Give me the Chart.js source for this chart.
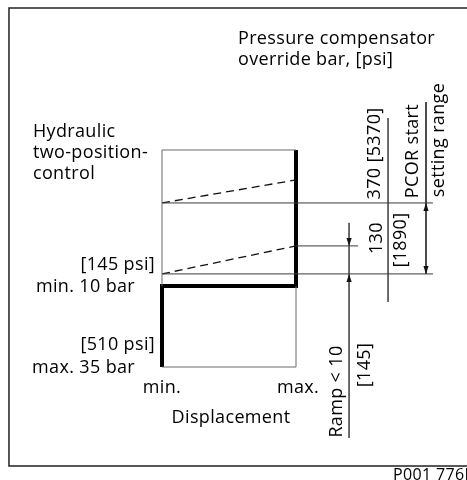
<!DOCTYPE html>
<html>
<head>
<meta charset="utf-8">
<script src="https://cdn.jsdelivr.net/npm/chart.js@4/dist/chart.umd.min.js"></script>
<style>
  html, body { margin: 0; padding: 0; background: #fff; }
  #c { display: block; }
</style>
</head>
<body>
<canvas id="c" width="467" height="480"></canvas>
<script>
// ---- Diagram data (x: displacement, 0 = min, 1 = max; y: abstract pressure level, 0..100 = box) ----
const levelMax35 = 0;        // bottom of box (max. 35 bar / 510 psi)
const levelMin10 = 37.3;     // step of the two-position control (min. 10 bar)
const levelRampLow = 42.9;   // PCOR start lower setting (130 bar)
const levelRampLowEnd = 55.8;// end of lower ramp
const levelRampHigh = 75.6;  // PCOR start upper setting (370 bar)
const levelRampHighEnd = 86.2;
const levelTop = 100;

const controlStepX = [1, 1, 0, 0];
const controlStepY = [levelTop, levelMin10, levelMin10, levelMax35];
const boxUpperX = [0, 0, 1];
const boxUpperY = [levelMin10, levelTop, levelTop];
const boxLowerX = [0, 1, 1];
const boxLowerY = [levelMax35, levelMax35, levelMin10];
const rampLowX = [0, 1];
const rampLowY = [levelRampLow, levelRampLowEnd];
const rampHighX = [0, 1];
const rampHighY = [levelRampHigh, levelRampHighEnd];
const extensionX = [0, 2.022];
const shortExtX = [1, 1.463];

// dimension lines
const dimRampX = 1.396, dimRampY = [66.4, -32.7];
const dimPcorX = 1.687, dimPcorY = [114.7, 30.0];
const dimRangeX = 1.970, dimRangeY = [122.1, levelRampLow];

const xLabels = ["min.", "max."];

function pts(xs, ys) { return xs.map((x, i) => ({ x: x, y: ys[i] })); }
function lineDs(data, width, color, dash) {
  return { data: data, showLine: true, borderColor: color, borderWidth: width,
           pointRadius: 0, borderDash: dash || [], fill: false, tension: 0,
           borderCapStyle: 'butt', borderJoinStyle: 'miter' };
}

const thin = '#3a3a3a';
const datasets = [
  lineDs(pts(boxUpperX, boxUpperY), 1, '#6a6a6a'),
  lineDs(pts(boxLowerX, boxLowerY), 1, '#6a6a6a'),
  lineDs(pts(extensionX, [levelRampHigh, levelRampHigh]), 1, thin),
  lineDs(pts(extensionX, [levelRampLow, levelRampLow]), 1, thin),
  lineDs(pts(shortExtX, [levelRampLowEnd, levelRampLowEnd]), 1, thin),
  lineDs(pts(rampHighX, rampHighY), 1.3, '#111', [8, 5]),
  lineDs(pts(rampLowX, rampLowY), 1.3, '#111', [8, 5]),
  lineDs(pts([dimRampX, dimRampX], dimRampY), 1, '#555'),
  lineDs(pts([dimPcorX, dimPcorX], dimPcorY), 1, '#555'),
  lineDs(pts([dimRangeX, dimRangeX], dimRangeY), 1, '#333'),
  lineDs(pts(controlStepX, controlStepY), 4, '#000'),
  // frame
  lineDs(pts([2.4, -1.142, -1.142, 2.4], [165.4, 165.4, -45.6, -45.6]), 1.5, '#222')
];

const FONT = '"Open Sans", "Noto Sans", sans-serif';
const texts = [
  { t: "Pressure compensator", x: 0.567, y: 148.8, align: 'left' },
  { t: "override bar, [psi]", x: 0.567, y: 139.2, align: 'left' },
  { t: "Hydraulic", x: -0.963, y: 106.0, align: 'left' },
  { t: "two-position-", x: -0.963, y: 96.3, align: 'left' },
  { t: "control", x: -0.963, y: 86.6, align: 'left' },
  { t: "[145 psi]", x: -0.052, y: 44.7, align: 'right' },
  { t: "min. 10 bar", x: -0.201, y: 34.6, align: 'right' },
  { t: "[510 psi]", x: -0.052, y: 7.8, align: 'right' },
  { t: "max. 35 bar", x: -0.201, y: -2.8, align: 'right' },
  { t: xLabels[0], x: 0, y: -12.0, align: 'center' },
  { t: xLabels[1], x: 1.015, y: -12.0, align: 'center' },
  { t: "Displacement", x: 0.515, y: -25.8, align: 'center' },
  { t: "Ramp < 10", x: 1.343, y: -11.3, align: 'center', rot: true },
  { t: "[145]", x: 1.552, y: 0.9, align: 'center', rot: true },
  { t: "130", x: 1.642, y: 59.4, align: 'center', rot: true },
  { t: "[1890]", x: 1.821, y: 58.5, align: 'center', rot: true },
  { t: "370 [5370]", x: 1.627, y: 98.4, align: 'center', rot: true },
  { t: "PCOR start", x: 1.910, y: 99.5, align: 'center', rot: true },
  { t: "setting range", x: 2.104, y: 104.6, align: 'center', rot: true },
  { t: "P001 776E", x: 1.724, y: -52.0, align: 'left', size: 16 }
];

// arrows: [x, tipY, direction (+1 = points up, -1 = points down)]
const arrows = [
  [dimRampX, levelRampLowEnd, -1],
  [dimRampX, levelRampLow, 1],
  [dimRangeX, levelRampHigh, 1],
  [dimRangeX, levelRampLow, -1]
];

const overlay = {
  id: 'overlay',
  afterDatasetsDraw(chart) {
    const ctx = chart.ctx, sx = chart.scales.x, sy = chart.scales.y;
    ctx.save();
    ctx.fillStyle = '#111';
    arrows.forEach(a => {
      const px = sx.getPixelForValue(a[0]);
      const py = sy.getPixelForValue(a[1]);
      const L = 8, W = 2.6;
      const base = py + a[2] * L; // up-pointing arrow: base below tip
      ctx.beginPath();
      ctx.moveTo(px, py);
      ctx.lineTo(px - W, base);
      ctx.lineTo(px + W, base);
      ctx.closePath();
      ctx.fill();
    });
    texts.forEach(o => {
      const px = sx.getPixelForValue(o.x);
      const py = sy.getPixelForValue(o.y);
      ctx.font = (o.size || 18) + 'px ' + FONT;
      try { ctx.letterSpacing = '0.35px'; } catch (e) {}
      ctx.textAlign = o.align;
      ctx.textBaseline = 'alphabetic';
      ctx.fillStyle = '#000';
      if (o.rot) {
        ctx.save();
        ctx.translate(px, py);
        ctx.rotate(-Math.PI / 2);
        ctx.fillText(o.t, 0, 0);
        ctx.restore();
      } else {
        ctx.fillText(o.t, px, py);
      }
    });
    ctx.restore();
  }
};

new Chart(document.getElementById('c'), {
  type: 'scatter',
  data: { datasets: datasets },
  options: {
    responsive: false,
    animation: false,
    devicePixelRatio: 1,
    layout: { padding: 0 },
    plugins: { legend: { display: false }, tooltip: { enabled: false } },
    scales: {
      x: { type: 'linear', display: false, min: -1.209, max: 2.276 },
      y: { type: 'linear', display: false, min: -52.07, max: 169.12 }
    }
  },
  plugins: [overlay]
});
</script>
</body>
</html>
